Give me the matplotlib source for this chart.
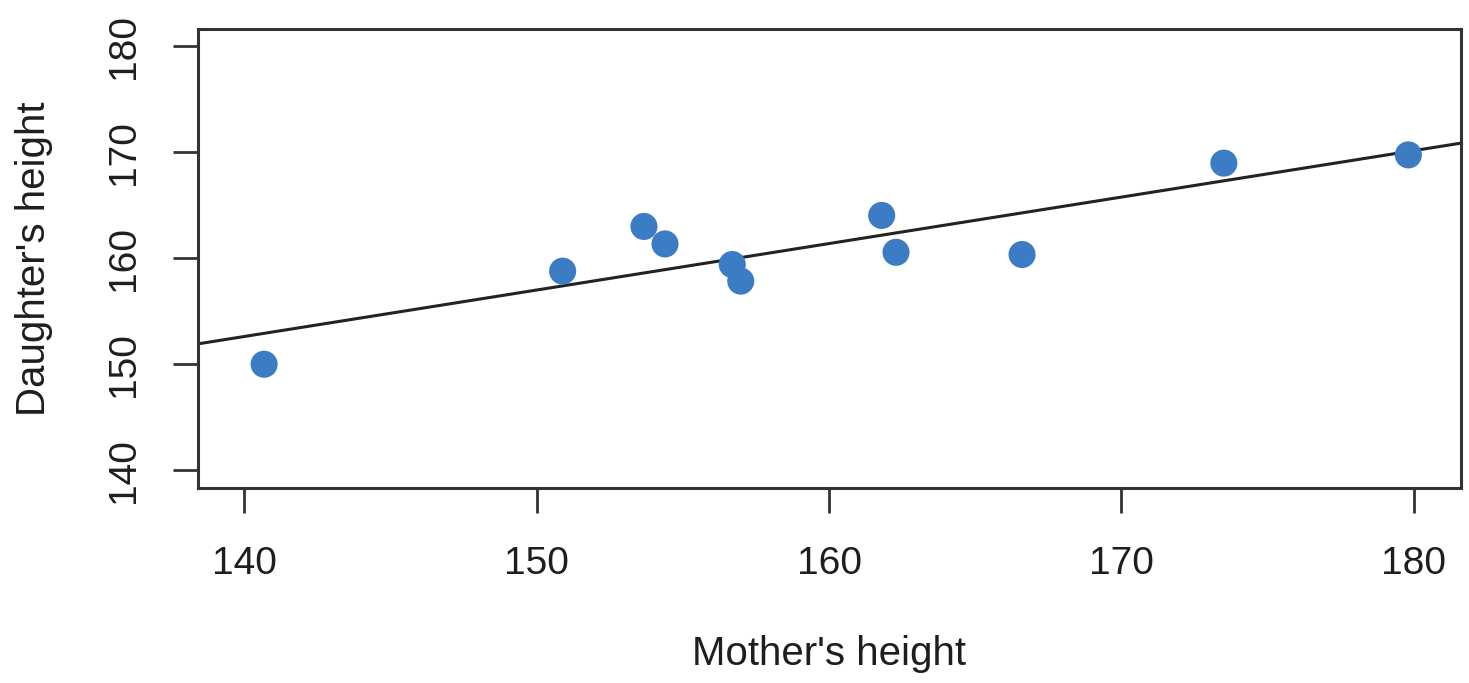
import matplotlib
matplotlib.use("Agg")
import matplotlib.pyplot as plt
import numpy as np

plt.rcParams['font.family'] = ['Liberation Sans', 'DejaVu Sans']

mother = np.array([140.68, 150.89, 153.67, 154.39, 156.69, 156.98,
                   161.8, 162.29, 166.6, 173.5, 179.81])
daughter = np.array([150.0, 158.78, 163.0, 161.35, 159.41, 157.84,
                     164.04, 160.56, 160.35, 168.97, 169.75])
xticks = [140, 150, 160, 170, 180]
yticks = [140, 150, 160, 170, 180]

fig = plt.figure(figsize=(14.69, 6.83), dpi=100)
ax = fig.add_axes([197.7 / 1469, 1 - 487.7 / 683, (1461 - 197.7) / 1469, (487.7 - 29.3) / 683])

ax.scatter(mother, daughter, s=380, color='#3b7cc4', edgecolors='none', zorder=3)

# least squares line across the whole plot, like abline(lm(...))
slope, icept = np.polyfit(mother, daughter, 1)
xlim = (138.41, 181.61)
xs = np.array(xlim)
ax.plot(xs, icept + slope * xs, color='#222222', lw=2.2, zorder=2)

ax.set_xlim(*xlim)
ax.set_ylim(138.35, 181.6)
ax.set_xticks(xticks)
ax.set_yticks(yticks)
ax.tick_params(length=18, width=2, labelsize=28, color='#333333', labelcolor='#1e1e1e')
ax.tick_params(axis='x', pad=24)
ax.tick_params(axis='y', pad=22, labelrotation=90)
for lab in ax.get_yticklabels():
    lab.set_va('center')
for sp in ax.spines.values():
    sp.set_linewidth(2.2)
    sp.set_color('#333333')

ax.set_xlabel("Mother's height", fontsize=29, color='#1e1e1e', labelpad=38)
ax.set_ylabel("Daughter's height", fontsize=29, color='#1e1e1e', labelpad=38)

fig.savefig('out.png', dpi=100)
